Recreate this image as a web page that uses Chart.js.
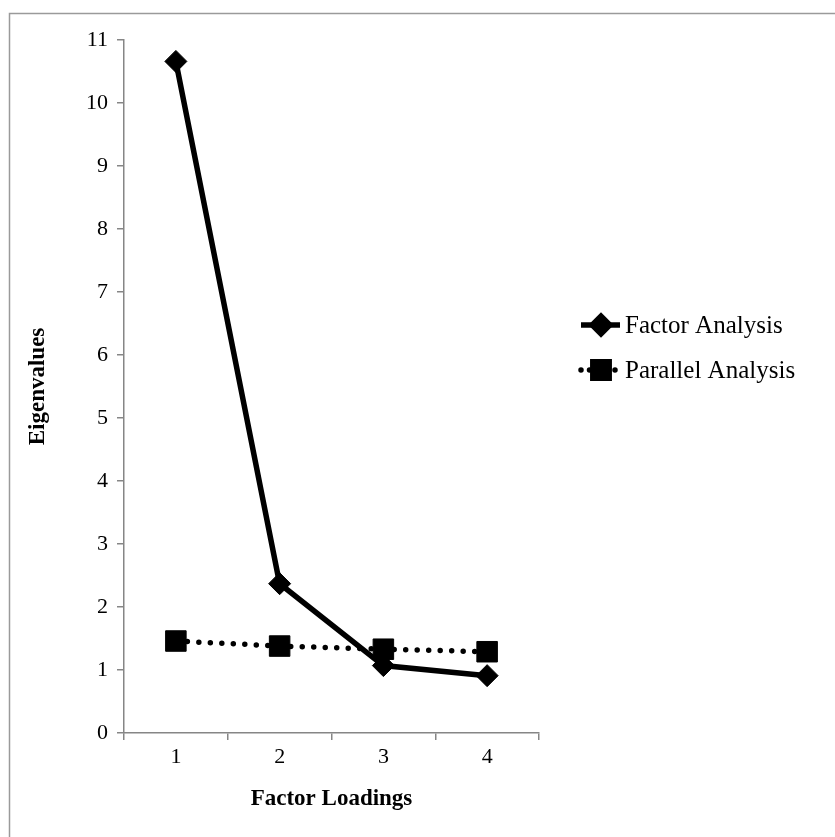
<!DOCTYPE html>
<html>
<head>
<meta charset="utf-8">
<script src="https://cdn.jsdelivr.net/npm/chart.js@4"></script>
<style>
 html,body{margin:0;padding:0;background:#fff;}
 #wrap{width:835px;height:837px;position:relative;}
</style>
</head>
<body>
<div id="wrap"><canvas id="chart" width="835" height="837"></canvas></div>
<script>
// scree plot: factor analysis vs parallel analysis
const factors = ["1","2","3","4"];
const factorAnalysis = [10.66, 2.37, 1.07, 0.91];
const parallelAnalysis = [1.46, 1.38, 1.33, 1.29];
const yTicks = [0,1,2,3,4,5,6,7,8,9,10,11];

const FONT = "'Liberation Serif','Times New Roman',serif";
const AXIS = "#868686";

// outer frame like the office chart box
const frame = {
 id:'frame',
 beforeDraw(c){
  const ctx=c.ctx;ctx.save();
  ctx.fillStyle="#fff";ctx.fillRect(0,0,c.width,c.height);
  ctx.strokeStyle="#9a9a9a";ctx.lineWidth=1.5;
  ctx.strokeRect(9.5,13.5,900,900);
  ctx.restore();
 }
};

// legend: line with marker in the middle, text on the right
const sideLegend = {
 id:'sideLegend',
 afterDraw(c){
  const ctx=c.ctx;
  const rows=[{ds:c.data.datasets[0],y:325,dash:[]},{ds:c.data.datasets[1],y:370,dash:[0,8.5]}];
  rows.forEach(r=>{
   ctx.save();
   ctx.strokeStyle="#000";ctx.lineWidth=r.ds.borderWidth;ctx.lineCap=r.ds.borderCapStyle||'butt';
   ctx.setLineDash(r.dash);
   ctx.beginPath();ctx.moveTo(581,r.y);ctx.lineTo(620,r.y);ctx.stroke();
   ctx.setLineDash([]);
   Chart.helpers.drawPoint(ctx,{pointStyle:r.ds.pointStyle,radius:r.ds.pointRadius*0.8,borderWidth:1,rotation:0},601,r.y);
   ctx.fillStyle="#000";ctx.fill();
   ctx.font="25px "+FONT;ctx.textBaseline="middle";ctx.textAlign="left";
   ctx.fillText(r.ds.label,625,r.y+1);
   ctx.restore();
  });
 }
};

new Chart(document.getElementById('chart'),{
 type:'line',
 data:{
  labels:factors,
  datasets:[
   {label:"Factor Analysis",data:factorAnalysis,borderColor:"#000",backgroundColor:"#000",
    borderWidth:5.5,pointStyle:'rectRot',pointRadius:11,pointBorderWidth:1,tension:0},
   {label:"Parallel Analysis",data:parallelAnalysis,borderColor:"#000",backgroundColor:"#000",
    borderWidth:5.5,borderDash:[0,11.5],borderCapStyle:'round',
    pointStyle:'rect',pointRadius:14.5,pointBorderWidth:1,tension:0}
  ]
 },
 options:{
  responsive:false,animation:false,
  layout:{padding:{left:20,top:40,right:296,bottom:20}},
  plugins:{legend:{display:false},tooltip:{enabled:false}},
  scales:{
   x:{
    offset:true,
    grid:{offset:true,drawOnChartArea:false,drawTicks:true,tickLength:7,color:AXIS,lineWidth:1.5},
    border:{display:true,color:AXIS,width:1.5},
    ticks:{color:"#000",font:{family:FONT,size:22},padding:4},
    title:{display:true,text:"Factor Loadings",color:"#000",font:{family:FONT,size:23,weight:'bold'},padding:{top:4}},
    afterFit(s){s.height=84;}
   },
   y:{
    min:0,max:11,
    afterBuildTicks(s){s.ticks=yTicks.map(v=>({value:v}));},
    grid:{drawOnChartArea:false,drawTicks:true,tickLength:7,color:AXIS,lineWidth:1.5},
    border:{display:true,color:AXIS,width:1.5},
    ticks:{color:"#000",font:{family:FONT,size:22},padding:9},
    title:{display:true,text:"Eigenvalues",color:"#000",font:{family:FONT,size:23,weight:'bold'},padding:{bottom:2}},
    afterFit(s){s.width=104;}
   }
  }
 },
 plugins:[frame,sideLegend]
});
</script>
</body>
</html>
